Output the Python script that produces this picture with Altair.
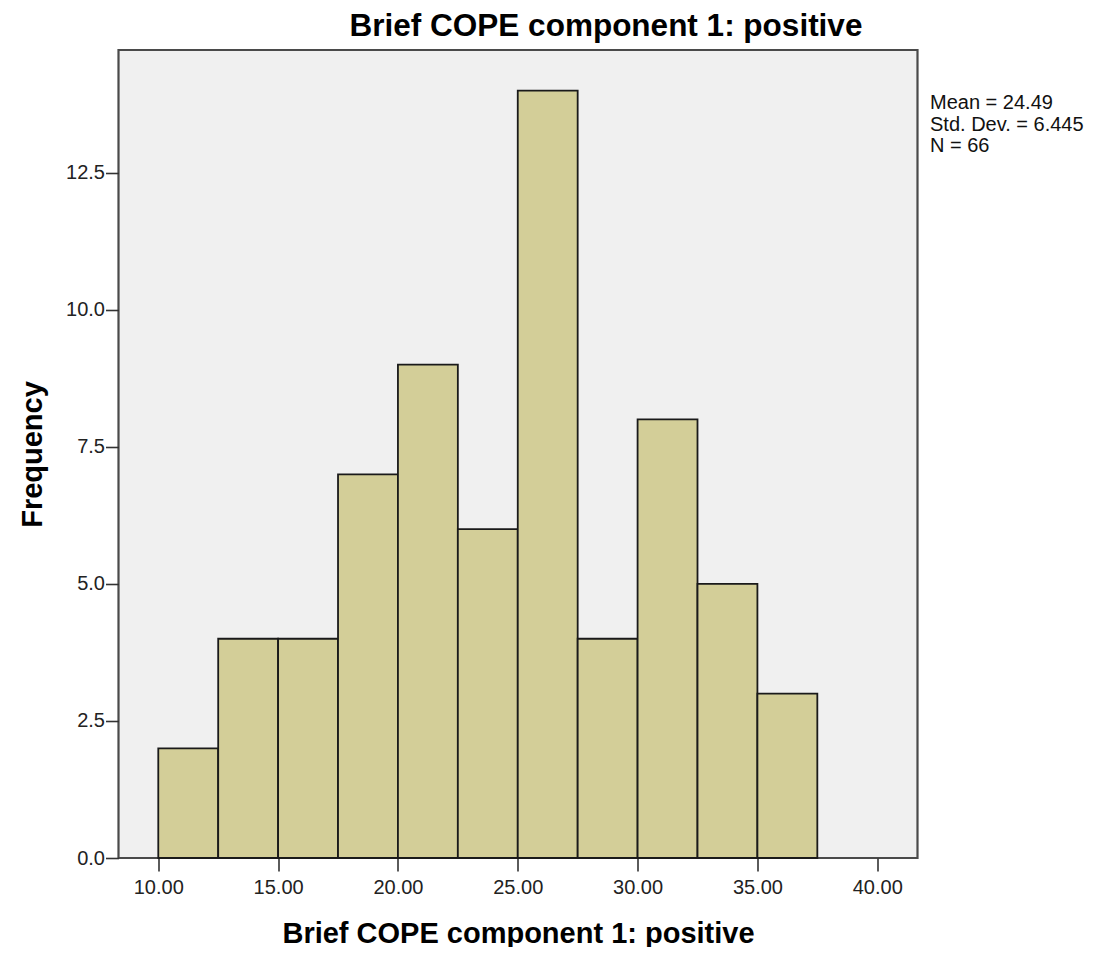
import altair as alt
import pandas as pd

bin_start = [10.0, 12.5, 15.0, 17.5, 20.0, 22.5, 25.0, 27.5, 30.0, 32.5, 35.0]
bin_end = [12.5, 15.0, 17.5, 20.0, 22.5, 25.0, 27.5, 30.0, 32.5, 35.0, 37.5]
counts = [2, 4, 4, 7, 9, 6, 14, 4, 8, 5, 3]
x_ticks = [10, 15, 20, 25, 30, 35, 40]
y_ticks = [0, 2.5, 5.0, 7.5, 10.0, 12.5]
stats_lines = ["Mean = 24.49", "Std. Dev. = 6.445", "N = 66"]

title_text = "Brief COPE component 1: positive"
x_title = "Brief COPE component 1: positive"
y_title = "Frequency"

df = pd.DataFrame({"start": bin_start, "end": bin_end, "count": counts})

FONT = "Liberation Sans"
W, H = 799, 808

bars = alt.Chart(df).mark_rect(
    fill="#D3CE98", stroke="#1a1a1a", strokeWidth=1.8
).encode(
    x=alt.X("start:Q",
            scale=alt.Scale(domain=[8.34, 41.68], nice=False, zero=False),
            axis=alt.Axis(values=x_ticks, format=".2f", title=x_title,
                          grid=False, domain=False, tickSize=13, tickWidth=1.6,
                          tickColor="#333333", labelFontSize=20, labelFont=FONT,
                          labelColor="#222222", labelPadding=6,
                          titleFont=FONT, titleFontSize=29, titleFontWeight="bold",
                          titleColor="#000000", titleX=W / 2, titleY=75,
                          titleBaseline="middle", titleAlign="center")),
    x2="end:Q",
    y=alt.Y("count:Q",
            scale=alt.Scale(domain=[0, 14.74], nice=False),
            axis=alt.Axis(values=y_ticks, format=".1f", title=y_title,
                          grid=False, domain=False, tickSize=13, tickWidth=1.6,
                          tickColor="#333333", labelFontSize=20, labelFont=FONT,
                          labelColor="#222222", labelPadding=1,
                          titleFont=FONT, titleFontSize=29, titleFontWeight="bold",
                          titleColor="#000000", titleX=-86, titleY=H / 2,
                          titleAngle=-90, titleBaseline="middle", titleAlign="center")),
    y2=alt.datum(0),
)

stats = alt.Chart(pd.DataFrame({"t": [stats_lines]})).mark_text(
    align="left", baseline="alphabetic", font=FONT, fontSize=20,
    lineHeight=21.5, color="#111111"
).encode(
    text="t", x=alt.value(811.5), y=alt.value(59)
)

chart = alt.layer(bars, stats).properties(
    width=W, height=H,
    background="white",
    autosize=alt.AutoSizeParams(type="none"),
    padding={"left": 110.5, "top": 42, "right": 175, "bottom": 89},
    title=alt.TitleParams(title_text, font=FONT, fontSize=31.5, fontWeight="bold",
                          color="#000000", anchor="middle", dx=88, dy=30, offset=6,
                          baseline="bottom"),
).configure_view(
    fill="#F0F0F0", stroke="#4a4a4a", strokeWidth=2.2
)

chart.save("out.html", embed_options={"renderer": "svg", "actions": False})
